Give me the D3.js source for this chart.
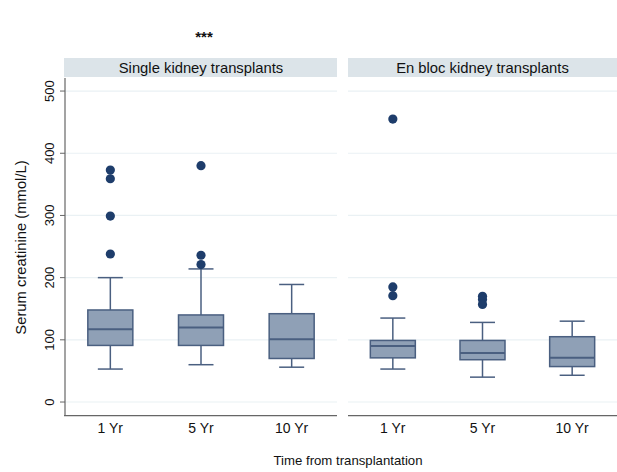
<!DOCTYPE html>
<meta charset="utf-8">
<style>
  body { margin: 0; background: #fff; }
  text { font-family: "Liberation Sans", Arial, Helvetica, sans-serif; fill: #111; }
</style>
<script src="https://d3js.org/d3.v7.min.js"></script>
<svg width="617" height="472"></svg>
<script>
const svg = d3.select('svg');

// data
const panels = ['Single kidney transplants', 'En bloc kidney transplants'];
const times = ['1 Yr', '5 Yr', '10 Yr'];
const yTicks = [0, 100, 200, 300, 400, 500];

const lowWhisker = [[53, 60, 56], [53, 40, 43]];
const q1 = [[91, 91, 70], [71, 68, 57]];
const median = [[117, 120, 101], [90, 79, 71]];
const q3 = [[148, 140, 142], [99, 99, 105]];
const highWhisker = [[200, 214, 189], [135, 128, 130]];
const outliers = [
  [[373, 359, 299, 238], [380, 236, 221], []],
  [[455, 185, 171], [170, 165, 157], []]
];

const boxFill = '#8fa0b6';
const boxStroke = '#4a5f80';
const dotFill = '#1e3d6b';

const panelX = [[65, 337], [348, 617]];
const plotTop = 78, plotBottom = 415.7;

const y = d3.scaleLinear().domain([-22, 521]).range([plotBottom, plotTop]);

panels.forEach((name, p) => {
  const [x0, x1] = panelX[p];
  const x = d3.scaleBand().domain(times).range([x0, x1]).padding(0);
  const g = svg.append('g');

  // strip
  g.append('rect')
    .attr('x', x0 - (p === 0 ? 1 : 0)).attr('y', 58)
    .attr('width', x1 - x0 + (p === 0 ? 1 : 0)).attr('height', 19)
    .attr('fill', '#dce4e9');
  g.append('text')
    .attr('x', (x0 + x1) / 2).attr('y', 72.5)
    .attr('text-anchor', 'middle').attr('font-size', 14.8)
    .text(name);

  // grid
  g.selectAll('.grid').data(yTicks).enter().append('line')
    .attr('x1', x0).attr('x2', x1)
    .attr('y1', d => y(d)).attr('y2', d => y(d))
    .attr('stroke', '#eaf1f4').attr('stroke-width', 1.2);

  // bottom axis line
  g.append('line')
    .attr('x1', x0 - (p === 0 ? 1 : 0)).attr('x2', x1)
    .attr('y1', plotBottom).attr('y2', plotBottom)
    .attr('stroke', '#666').attr('stroke-width', 1.2);

  // x tick labels
  g.selectAll('.xl').data(times).enter().append('text')
    .attr('x', d => x(d) + x.bandwidth() / 2).attr('y', 433)
    .attr('text-anchor', 'middle').attr('font-size', 14)
    .text(d => d);

  const bw = 45, cap = 12.5;
  times.forEach((t, i) => {
    const cx = x(t) + x.bandwidth() / 2;
    // whiskers
    g.append('line').attr('x1', cx).attr('x2', cx)
      .attr('y1', y(q3[p][i])).attr('y2', y(highWhisker[p][i]))
      .attr('stroke', boxStroke).attr('stroke-width', 1.5);
    g.append('line').attr('x1', cx).attr('x2', cx)
      .attr('y1', y(q1[p][i])).attr('y2', y(lowWhisker[p][i]))
      .attr('stroke', boxStroke).attr('stroke-width', 1.5);
    [highWhisker[p][i], lowWhisker[p][i]].forEach(v => {
      g.append('line').attr('x1', cx - cap).attr('x2', cx + cap)
        .attr('y1', y(v)).attr('y2', y(v))
        .attr('stroke', boxStroke).attr('stroke-width', 1.5);
    });
    // box
    g.append('rect')
      .attr('x', cx - bw / 2).attr('width', bw)
      .attr('y', y(q3[p][i])).attr('height', y(q1[p][i]) - y(q3[p][i]))
      .attr('fill', boxFill).attr('stroke', boxStroke).attr('stroke-width', 1.5);
    g.append('line').attr('x1', cx - bw / 2).attr('x2', cx + bw / 2)
      .attr('y1', y(median[p][i])).attr('y2', y(median[p][i]))
      .attr('stroke', boxStroke).attr('stroke-width', 2);
    // outliers
    g.selectAll(null).data(outliers[p][i]).enter().append('circle')
      .attr('cx', cx).attr('cy', d => y(d)).attr('r', 4.6)
      .attr('fill', dotFill);
  });
});

// y axis
const yAxis = svg.append('g').attr('transform', 'translate(65,0)');
yAxis.append('line').attr('x1', 0).attr('x2', 0).attr('y1', plotTop).attr('y2', plotBottom)
  .attr('stroke', '#666').attr('stroke-width', 1.2);
yAxis.selectAll('.tk').data(yTicks).enter().append('line')
  .attr('x1', -5).attr('x2', 0).attr('y1', d => y(d)).attr('y2', d => y(d))
  .attr('stroke', '#666').attr('stroke-width', 1);
yAxis.selectAll('.tl').data(yTicks).enter().append('text')
  .attr('transform', d => `translate(-11,${y(d)}) rotate(-90)`)
  .attr('text-anchor', 'middle').attr('font-size', 13)
  .text(d => d);

svg.append('text')
  .attr('transform', 'translate(25.5,247.5) rotate(-90)')
  .attr('text-anchor', 'middle').attr('font-size', 14.8)
  .text('Serum creatinine (mmol/L)');

svg.append('text')
  .attr('x', 348).attr('y', 465)
  .attr('text-anchor', 'middle').attr('font-size', 13.2)
  .text('Time from transplantation');

svg.append('text')
  .attr('x', 204).attr('y', 42)
  .attr('text-anchor', 'middle').attr('font-size', 15).attr('font-weight', 'bold')
  .text('***');
</script>
